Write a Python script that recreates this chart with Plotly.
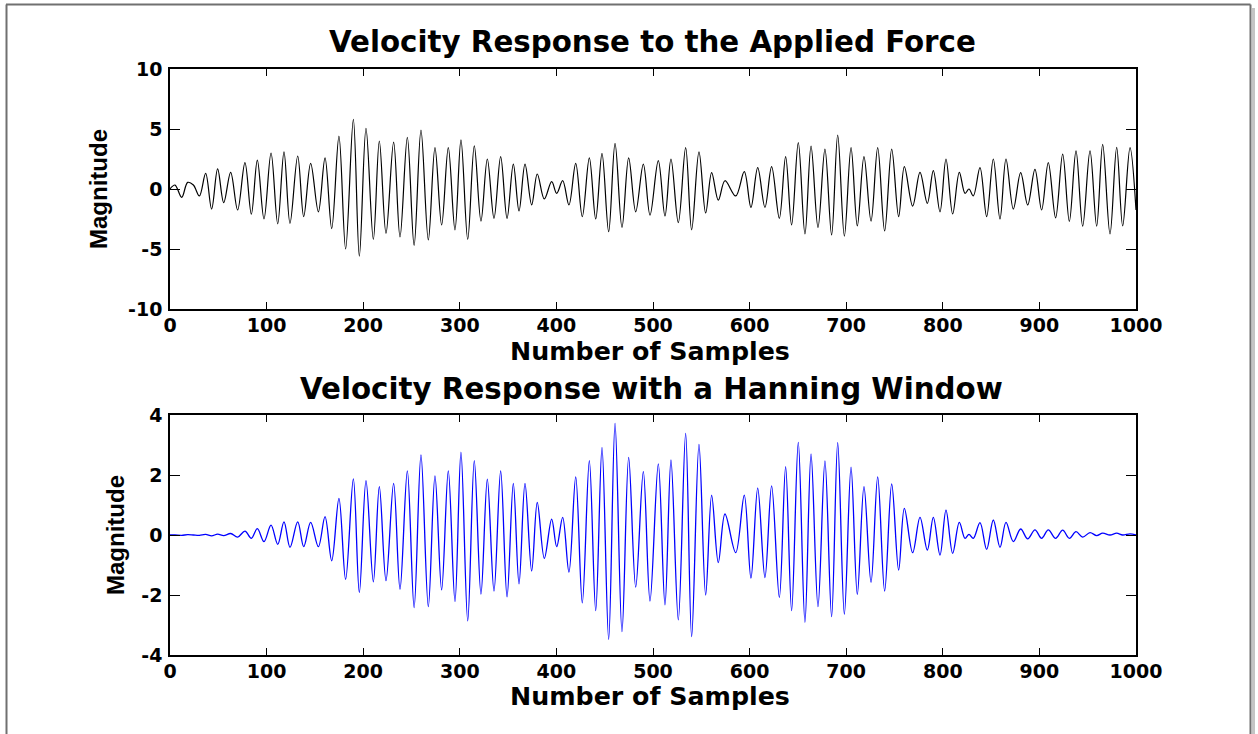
import plotly.graph_objects as go

# Sample index of each turning point of the measured response
samples = [
    0, 5.2, 12.1, 18.3, 24.2, 30.4, 36.9, 43.1, 49.3, 55.6,
    62.8, 70.0, 77.6, 84.2, 90.4, 97.3, 104.6, 111.5, 118.0, 124.2,
    132.2, 138.4, 145.6, 153.6, 160.5, 167.4, 174.9, 181.8, 189.8, 196.0,
    202.9, 210.5, 216.7, 223.6, 231.5, 238.1, 245.7, 252.7, 259.8, 267.4,
    274.3, 281.2, 288.1, 295.0, 301.2, 308.2, 315.0, 321.9, 328.5, 335.4,
    342.3, 348.9, 355.4, 361.3, 367.5, 374.4, 380.2, 387.5, 395.1, 400.3,
    406.5, 413.0, 420.0, 426.8, 434.1, 440.7, 447.2, 454.1, 460.7, 467.9,
    474.8, 482.1, 490.0, 496.9, 505.5, 512.4, 518.6, 526.2, 533.8, 540.0,
    547.6, 554.5, 560.7, 567.6, 574.5, 585.6, 594.5, 601.4, 608.4, 615.9,
    622.8, 630.8, 637.3, 643.5, 650.4, 657.3, 663.6, 670.8, 678.0, 684.9,
    691.2, 698.1, 705.0, 711.5, 718.4, 725.7, 732.6, 739.8, 747.1, 754.3,
    760.2, 768.8, 776.4, 784.0, 790.2, 797.1, 803.3, 810.2, 817.1, 823.0,
    827.1, 831.6, 838.5, 845.4, 852.3, 859.2, 865.4, 873.0, 880.6, 887.9,
    895.4, 902.3, 909.2, 916.8, 924.1, 931.0, 937.9, 944.8, 952.4, 959.3,
    965.5, 973.1, 980.0, 986.2, 993.8, 1000,
]

# Velocity response to the applied force
velocity = [
    0.0, 0.33, -0.7, 0.55, 0.33, -0.58, 1.3, -1.67, 1.67, -1.14,
    1.39, -1.75, 2.2, -2.1, 2.4, -2.5, 3.0, -2.9, 3.1, -2.86,
    2.75, -2.3, 2.14, -1.9, 2.6, -3.3, 4.4, -5.0, 5.8, -5.6,
    5.05, -4.2, 4.0, -3.7, 3.9, -4.0, 4.3, -4.7, 4.9, -4.25,
    3.44, -3.0, 3.44, -3.4, 4.1, -4.2, 3.6, -2.67, 2.5, -2.44,
    2.7, -2.44, 2.08, -1.83, 2.08, -1.33, 1.25, -0.83, 0.61, -0.36,
    0.69, -1.33, 2.14, -2.3, 2.6, -2.5, 2.97, -3.56, 3.8, -3.2,
    2.6, -1.9, 2.08, -2.17, 2.36, -2.25, 2.5, -2.8, 3.44, -3.4,
    3.1, -2.0, 1.36, -0.92, 0.69, -0.58, 1.44, -1.53, 1.78, -1.53,
    1.86, -2.44, 2.7, -3.0, 3.86, -3.75, 3.58, -3.2, 3.33, -3.83,
    4.5, -3.92, 3.44, -3.08, 2.7, -2.67, 3.44, -3.5, 3.33, -2.3,
    1.86, -1.42, 1.39, -1.19, 1.53, -1.9, 2.5, -2.08, 1.39, -0.36,
    0.0, -0.58, 1.78, -2.3, 2.5, -2.5, 2.5, -1.67, 1.36, -1.33,
    1.64, -1.75, 2.2, -2.4, 2.9, -2.7, 3.17, -3.1, 3.17, -3.1,
    3.72, -3.75, 3.47, -3.08, 3.44, -1.75,
]

# Same response after applying a Hanning window
windowed = [
    0.0, 0.0, -0.01, 0.01, 0.0, -0.01, 0.02, -0.03, 0.03, -0.02,
    0.05, -0.07, 0.13, -0.11, 0.21, -0.22, 0.33, -0.31, 0.44, -0.41,
    0.44, -0.39, 0.42, -0.39, 0.61, -0.86, 1.22, -1.48, 1.87, -1.92,
    1.81, -1.56, 1.61, -1.52, 1.72, -1.81, 2.14, -2.42, 2.67, -2.39,
    1.97, -1.83, 2.14, -2.22, 2.76, -2.86, 2.48, -1.97, 1.86, -1.87,
    2.14, -2.06, 1.72, -1.63, 1.72, -1.2, 1.09, -0.78, 0.53, -0.39,
    0.59, -1.24, 1.94, -2.26, 2.48, -2.52, 2.92, -3.48, 3.72, -3.22,
    2.59, -1.74, 2.11, -2.2, 2.37, -2.33, 2.5, -2.83, 3.39, -3.39,
    3.02, -2.0, 1.33, -0.92, 0.7, -0.59, 1.33, -1.44, 1.56, -1.42,
    1.64, -2.08, 2.28, -2.52, 3.09, -2.91, 2.7, -2.39, 2.47, -2.72,
    3.08, -2.64, 2.26, -1.98, 1.61, -1.58, 1.94, -1.87, 1.7, -1.17,
    0.89, -0.59, 0.59, -0.5, 0.59, -0.67, 0.83, -0.61, 0.42, -0.11,
    0.02, -0.11, 0.41, -0.48, 0.5, -0.41, 0.42, -0.22, 0.2, -0.13,
    0.17, -0.11, 0.17, -0.11, 0.16, -0.11, 0.11, -0.07, 0.08, -0.02,
    0.06, 0.0, 0.06, 0.0, 0.04, 0.0,
]

x_ticks = list(range(0, 1001, 100))
top_y_ticks = [-10, -5, 0, 5, 10]
top_y_labels = ["-10", "-5", "0", "5", "10"]
bottom_y_ticks = [-4, -2, 0, 2, 4]
bottom_y_labels = ["-4", "-2", "0", "2", "4"]

titles = ["Velocity Response to the Applied Force",
          "Velocity Response with a Hanning Window"]
x_label = "Number of Samples"
y_label = "Magnitude"

W, H = 1258, 734


def fx(p):
    return p / W


def fy(p):
    return 1 - p / H


# axes boxes in pixels
AX_L, AX_R = 170, 1136
TOP_T, TOP_B = 69, 309
BOT_T, BOT_B = 415, 655

fig = go.Figure()
fig.add_trace(go.Scatter(
    x=samples, y=velocity, mode="lines", xaxis="x", yaxis="y",
    line=dict(color="black", width=1.2, shape="spline", smoothing=1.0),
    hoverinfo="skip", showlegend=False))
fig.add_trace(go.Scatter(
    x=samples, y=windowed, mode="lines", xaxis="x2", yaxis="y2",
    line=dict(color="#0000ff", width=1.3, shape="spline", smoothing=1.0),
    hoverinfo="skip", showlegend=False))

tick_font = dict(family="DejaVu Sans", size=19, color="black", weight="bold")
common = dict(showline=True, linecolor="black", linewidth=1.5, mirror="ticks",
              ticks="inside", tickcolor="black", tickwidth=1.2,
              showgrid=False, zeroline=False, tickfont=tick_font,
              automargin=False, fixedrange=True)

xdom = [fx(AX_L), fx(AX_R)]
fig.update_layout(
    width=W, height=H,
    margin=dict(l=0, r=0, t=0, b=0, pad=0, autoexpand=False),
    paper_bgcolor="white", plot_bgcolor="white",
    xaxis=dict(domain=xdom, range=[0, 1000], tickvals=x_ticks, ticklen=7,
               anchor="y", ticklabelstandoff=-2, **common),
    yaxis=dict(domain=[fy(TOP_B), fy(TOP_T)], range=[-10, 10],
               tickvals=top_y_ticks, ticktext=top_y_labels, ticklen=10,
               anchor="x", ticklabelstandoff=2, **common),
    xaxis2=dict(domain=xdom, range=[0, 1000], tickvals=x_ticks, ticklen=7,
                anchor="y2", ticklabelstandoff=-2, **common),
    yaxis2=dict(domain=[fy(BOT_B), fy(BOT_T)], range=[-4, 4],
                tickvals=bottom_y_ticks, ticktext=bottom_y_labels, ticklen=10,
                anchor="x2", ticklabelstandoff=2, **common),
)

title_font = dict(family="DejaVu Sans", size=29.3, color="black", weight="bold")
label_font = dict(family="DejaVu Sans", size=25.3, color="black", weight="bold")
ylab_font = dict(family="Liberation Sans", size=24, color="black", weight="bold")


def note(text, x, y, font, angle=0):
    fig.add_annotation(text=text, x=fx(x), y=fy(y), xref="paper", yref="paper",
                       xanchor="center", yanchor="middle", showarrow=False,
                       font=font, textangle=angle)


note(titles[0], 652, 42, title_font)
note(titles[1], 651, 389, title_font)
note(x_label, 650, 351, label_font)
note(x_label, 650, 696, label_font)
note(y_label, 98, 189, ylab_font, -90)
note(y_label, 115, 535, ylab_font, -90)

# page frame with a soft drop shadow on the right
frame = "#707070"
shadow = "#c4c4c4"
fig.add_shape(type="line", xref="paper", yref="paper",
              x0=fx(1253.5), x1=fx(1253.5), y0=fy(8), y1=fy(734),
              line=dict(color=shadow, width=3))
fig.add_shape(type="line", xref="paper", yref="paper",
              x0=fx(6), x1=fx(1250.5), y0=fy(4.5), y1=fy(4.5),
              line=dict(color=frame, width=2))
fig.add_shape(type="line", xref="paper", yref="paper",
              x0=fx(6.5), x1=fx(6.5), y0=fy(4.5), y1=fy(734),
              line=dict(color=frame, width=2))
fig.add_shape(type="line", xref="paper", yref="paper",
              x0=fx(1250.5), x1=fx(1250.5), y0=fy(4.5), y1=fy(734),
              line=dict(color=frame, width=2))

fig.write_html("out.html")
